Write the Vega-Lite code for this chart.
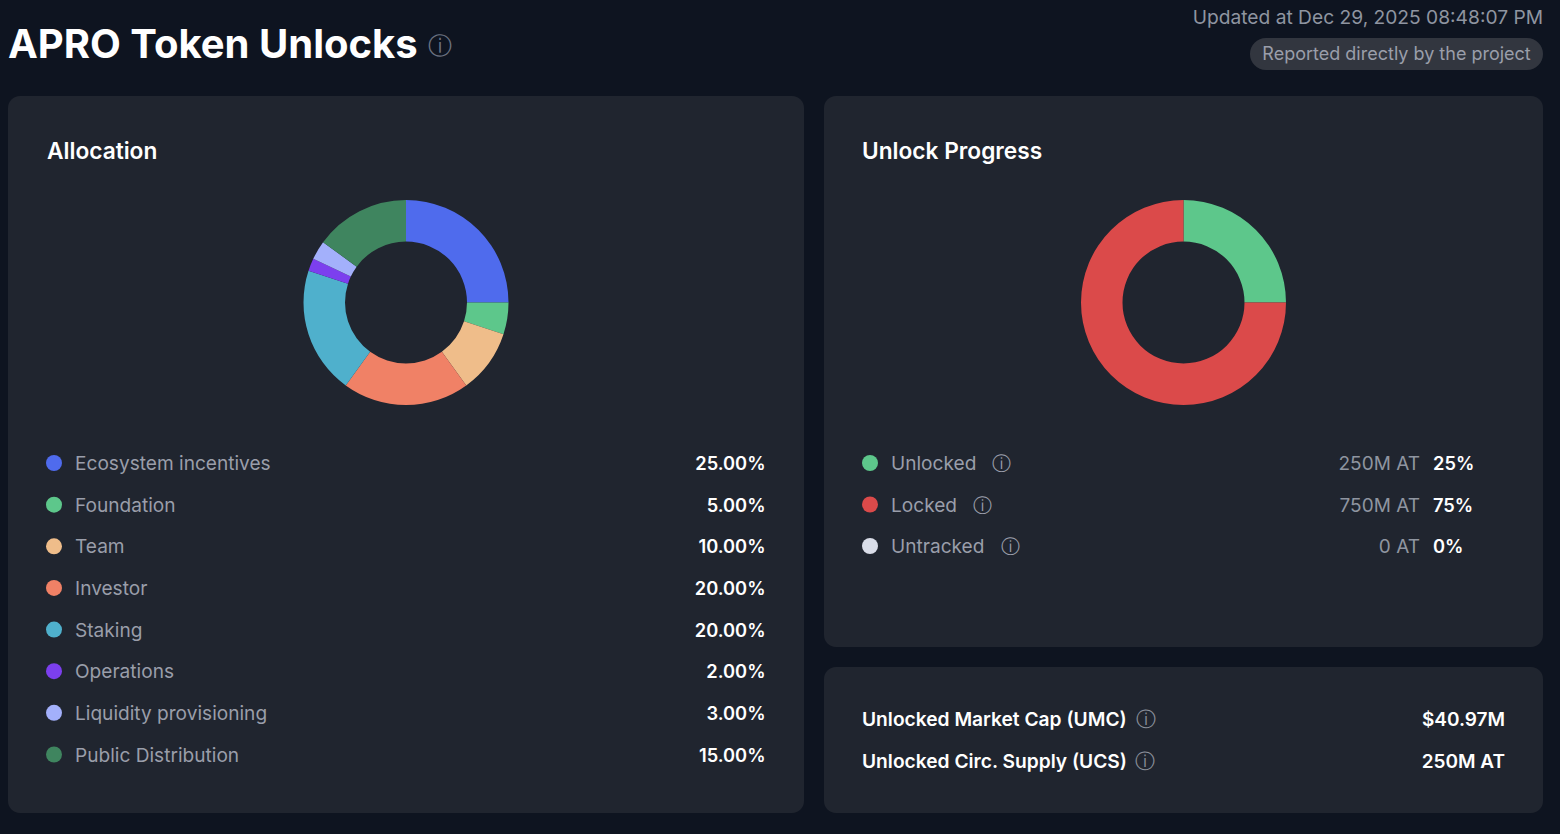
{
"$schema":"https://vega.github.io/schema/vega-lite/v6.json",
"background":"#0e1420",
"padding":{"left":8,"top":0,"right":17,"bottom":21},
"spacing":0,
"config":{"font":"Inter","view":{"fill":"#20252f","stroke":null,"cornerRadius":12},"concat":{"spacing":20},"axis":{"domain":false}},
"datasets":{
"allocation":[
{"rank":1,"name":"Ecosystem incentives","share":25,"pct":"25.00%"},
{"rank":2,"name":"Foundation","share":5,"pct":"5.00%"},
{"rank":3,"name":"Team","share":10,"pct":"10.00%"},
{"rank":4,"name":"Investor","share":20,"pct":"20.00%"},
{"rank":5,"name":"Staking","share":20,"pct":"20.00%"},
{"rank":6,"name":"Operations","share":2,"pct":"2.00%"},
{"rank":7,"name":"Liquidity provisioning","share":3,"pct":"3.00%"},
{"rank":8,"name":"Public Distribution","share":15,"pct":"15.00%"}
],
"progress":[
{"rank":1,"name":"Unlocked","share":25,"amount":"250M AT","pct":"25%","label":"Unlocked \u00a0\u00a0ⓘ"},
{"rank":2,"name":"Locked","share":75,"amount":"750M AT","pct":"75%","label":"Locked \u00a0\u00a0ⓘ"},
{"rank":3,"name":"Untracked","share":0,"amount":"0 AT","pct":"0%","label":"Untracked \u00a0\u00a0ⓘ"}
],
"stats":[
{"name":"Unlocked Market Cap (UMC)","value":"$40.97M"},
{"name":"Unlocked Circ. Supply (UCS)","value":"250M AT"}
]
},
"resolve":{"scale":{"color":"independent"}},
"vconcat":[
{
"width":1535,"height":96,
"view":{"fill":null,"stroke":null},
"data":{"values":[{"title":"APRO Token Unlocks","updated":"Updated at Dec 29, 2025 08:48:07 PM","badge":"Reported directly by the project"}]},
"encoding":{
"x":{"datum":0,"type":"quantitative","scale":{"domain":[0,1],"range":[0,1535]},"axis":null},
"y":{"datum":0.48,"type":"quantitative","scale":{"domain":[0,1],"range":[0,96]},"axis":null}
},
"layer":[
{"mark":{"type":"text","align":"left","baseline":"middle","fontSize":40,"fontWeight":700,"color":"#ffffff"},
 "encoding":{"text":{"field":"title"}}},
{"mark":{"type":"text","align":"center","baseline":"middle","fontSize":24,"color":"#6b7280"},
 "encoding":{"x":{"datum":0.2814,"type":"quantitative"},"y":{"datum":0.485,"type":"quantitative"},"text":{"value":"ⓘ"}}},
{"mark":{"type":"text","align":"right","baseline":"middle","fontSize":19.2,"color":"#8f95a0"},
 "encoding":{"x":{"datum":1,"type":"quantitative"},"y":{"datum":0.19,"type":"quantitative"},"text":{"field":"updated"}}},
{"mark":{"type":"rect","color":"#32363f","cornerRadius":16},
 "encoding":{"x":{"datum":0.8091,"type":"quantitative"},"x2":{"datum":1},"y":{"datum":0.396,"type":"quantitative"},"y2":{"datum":0.729}}},
{"mark":{"type":"text","align":"center","baseline":"middle","fontSize":18,"color":"#9a9eaa"},
 "encoding":{"x":{"datum":0.9046,"type":"quantitative"},"y":{"datum":0.5725,"type":"quantitative"},"text":{"field":"badge"}}}
]
},
{
"resolve":{"scale":{"color":"independent"}},
"hconcat":[
{
"width":796,"height":717,
"resolve":{"scale":{"y":"independent"}},
"layer":[
{"data":{"values":[{"label":"Allocation"}]},
 "mark":{"type":"text","align":"left","baseline":"middle","fontSize":22.7,"fontWeight":600,"color":"#ffffff","dx":-7},
 "encoding":{"x":{"datum":0,"type":"quantitative","scale":{"domain":[0,1],"range":[46,757.5]},"axis":null},
  "y":{"datum":"title","type":"nominal","scale":{"type":"point","domain":["title"],"range":[56,56]},"axis":null},
  "text":{"field":"label"}}},
{"data":{"name":"allocation"},
 "mark":{"type":"arc","innerRadius":61,"outerRadius":102.5},
 "encoding":{"theta":{"field":"share","type":"quantitative","stack":"zero"},
  "order":{"field":"rank","type":"ordinal"},
  "color":{"field":"name","type":"nominal","legend":null,"scale":{"domain":["Ecosystem incentives","Foundation","Team","Investor","Staking","Operations","Liquidity provisioning","Public Distribution"],"range":["#4f6bed","#5dc78b","#efbd8a","#f08166","#4fb0cc","#7c3fee","#a3b0fb","#3f855f"]}},
  "y":{"datum":"donut","type":"nominal","scale":{"type":"point","domain":["donut"],"range":[206.5,206.5]},"axis":null}}},
{"data":{"name":"allocation"},
 "encoding":{"y":{"field":"name","type":"nominal","sort":null,"scale":{"type":"point","padding":0,"domain":["Ecosystem incentives","Foundation","Team","Investor","Staking","Operations","Liquidity provisioning","Public Distribution"],"range":[367,658.5]},"axis":null}},
 "layer":[
 {"mark":{"type":"point","filled":true,"size":256,"opacity":1,"shape":"circle"},
  "encoding":{"x":{"datum":0,"type":"quantitative"},"color":{"field":"name","type":"nominal","legend":null}}},
 {"mark":{"type":"text","align":"left","baseline":"middle","fontSize":19.1,"color":"#9a9eaa","dx":21,"dy":1},
  "encoding":{"x":{"datum":0,"type":"quantitative"},"text":{"field":"name"}}},
 {"mark":{"type":"text","align":"right","baseline":"middle","fontSize":18.3,"fontWeight":600,"color":"#ffffff","dy":2},
  "encoding":{"x":{"datum":1,"type":"quantitative"},"text":{"field":"pct"}}}
 ]}
]
},
{
"resolve":{"scale":{"color":"independent"}},
"vconcat":[
{
"width":719,"height":551,
"resolve":{"scale":{"y":"independent"}},
"layer":[
{"data":{"values":[{"label":"Unlock Progress"}]},
 "mark":{"type":"text","align":"left","baseline":"middle","fontSize":22.7,"fontWeight":600,"color":"#ffffff","dx":-8},
 "encoding":{"x":{"datum":0,"type":"quantitative","scale":{"domain":[0,1],"range":[46,681]},"axis":null},
  "y":{"datum":"title","type":"nominal","scale":{"type":"point","domain":["title"],"range":[56,56]},"axis":null},
  "text":{"field":"label"}}},
{"data":{"name":"progress"},
 "mark":{"type":"arc","innerRadius":61,"outerRadius":102.5},
 "encoding":{"theta":{"field":"share","type":"quantitative","stack":"zero"},
  "order":{"field":"rank","type":"ordinal"},
  "color":{"field":"name","type":"nominal","legend":null,"scale":{"domain":["Unlocked","Locked","Untracked"],"range":["#5dc78b","#db4a4a","#d9dde8"]}},
  "y":{"datum":"donut","type":"nominal","scale":{"type":"point","domain":["donut"],"range":[206.5,206.5]},"axis":null}}},
{"data":{"name":"progress"},
 "encoding":{"y":{"field":"name","type":"nominal","sort":null,"scale":{"type":"point","padding":0,"domain":["Unlocked","Locked","Untracked"],"range":[367,450]},"axis":null}},
 "layer":[
 {"mark":{"type":"point","filled":true,"size":256,"opacity":1,"shape":"circle"},
  "encoding":{"x":{"datum":0,"type":"quantitative"},"color":{"field":"name","type":"nominal","legend":null}}},
 {"mark":{"type":"text","align":"left","baseline":"middle","fontSize":19.1,"color":"#9a9eaa","dx":21,"dy":1},
  "encoding":{"x":{"datum":0,"type":"quantitative"},"text":{"field":"label"}}},
 {"mark":{"type":"text","align":"right","baseline":"middle","fontSize":19,"color":"#8f95a0","dy":1},
  "encoding":{"x":{"datum":0.866,"type":"quantitative"},"text":{"field":"amount"}}},
 {"mark":{"type":"text","align":"left","baseline":"middle","fontSize":18.3,"fontWeight":600,"color":"#ffffff","dy":2},
  "encoding":{"x":{"datum":0.8866,"type":"quantitative"},"text":{"field":"pct"}}}
 ]}
]
},
{
"width":719,"height":146,
"data":{"name":"stats"},
"encoding":{
 "y":{"field":"name","type":"nominal","sort":null,"scale":{"type":"point","padding":0,"domain":["Unlocked Market Cap (UMC)","Unlocked Circ. Supply (UCS)"],"range":[52,94]},"axis":null}
},
"layer":[
 {"transform":[{"filter":"datum.name === 'Unlocked Market Cap (UMC)'"}],
  "mark":{"type":"text","align":"center","baseline":"middle","fontSize":20,"color":"#8b909b","dy":1},
  "encoding":{"x":{"datum":0.4417,"type":"quantitative","scale":{"domain":[0,1],"range":[38,681]},"axis":null},"text":{"value":"ⓘ"}}},
 {"transform":[{"filter":"datum.name === 'Unlocked Circ. Supply (UCS)'"}],
  "mark":{"type":"text","align":"center","baseline":"middle","fontSize":20,"color":"#8b909b","dy":1},
  "encoding":{"x":{"datum":0.4401,"type":"quantitative"},"text":{"value":"ⓘ"}}},
 {"mark":{"type":"text","align":"left","baseline":"middle","fontSize":19.2,"fontWeight":600,"color":"#ffffff","dy":1},
  "encoding":{"x":{"datum":0,"type":"quantitative"},"text":{"field":"name"}}},
 {"mark":{"type":"text","align":"right","baseline":"middle","fontSize":19,"fontWeight":600,"color":"#ffffff","dy":1},
  "encoding":{"x":{"datum":1,"type":"quantitative"},"text":{"field":"value"}}}
]
}
]
}
]
}
]
}
